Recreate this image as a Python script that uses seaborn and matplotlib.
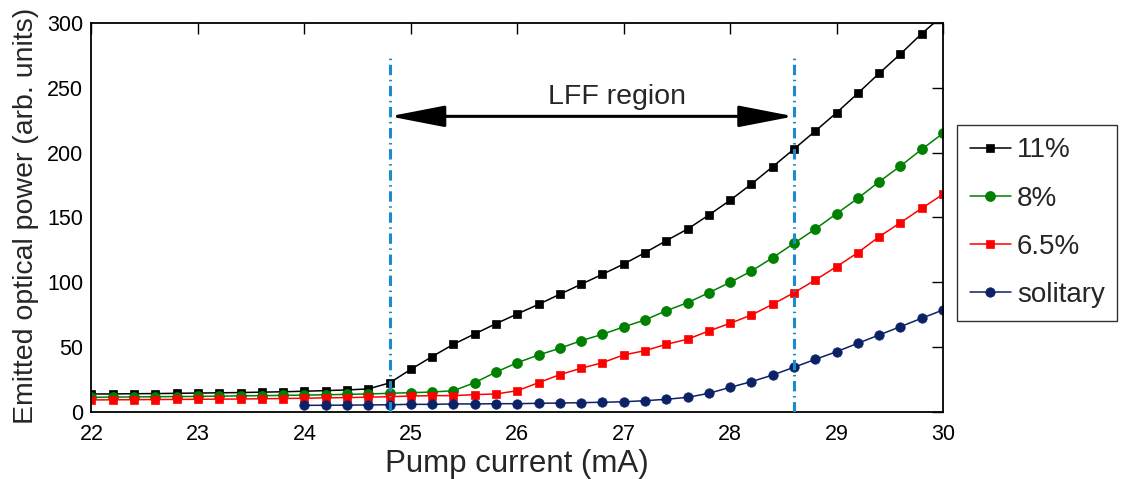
import numpy as np
import pandas as pd
import matplotlib
matplotlib.use("Agg")
import matplotlib.pyplot as plt
import seaborn as sns

# Pump current grid (mA)
current = [22.0, 22.2, 22.4, 22.6, 22.8, 23.0, 23.2, 23.4, 23.6, 23.8,
           24.0, 24.2, 24.4, 24.6, 24.8, 25.0, 25.2, 25.4, 25.6, 25.8,
           26.0, 26.2, 26.4, 26.6, 26.8, 27.0, 27.2, 27.4, 27.6, 27.8,
           28.0, 28.2, 28.4, 28.6, 28.8, 29.0, 29.2, 29.4, 29.6, 29.8, 30.0]

# Emitted optical power (arb. units) for each feedback strength
power_11 = [13.9, 13.9, 14.1, 14.2, 14.4, 14.6, 14.8, 15.0, 15.3, 15.6,
            16.0, 16.5, 17.0, 17.8, 22.4, 32.9, 42.7, 52.2, 60.2, 68.1,
            75.6, 83.0, 90.8, 98.5, 106.2, 114.1, 122.9, 132.1, 141.1, 151.9,
            163.3, 175.8, 189.2, 202.8, 216.7, 230.8, 245.8, 261.2, 276.1, 291.8, 306.0]

power_8 = [11.3, 11.5, 11.6, 11.8, 11.9, 12.0, 12.2, 12.4, 12.6, 12.8,
           13.0, 13.3, 13.6, 13.9, 14.4, 14.9, 15.4, 16.4, 22.6, 30.8,
           38.0, 44.0, 49.1, 55.0, 59.9, 65.6, 71.0, 78.1, 84.3, 92.0,
           100.0, 108.7, 119.0, 130.1, 141.1, 153.0, 164.8, 177.6, 189.7, 202.6, 214.9]

power_6_5 = [9.3, 9.4, 9.5, 9.6, 9.7, 9.8, 9.9, 10.0, 10.2, 10.4,
             10.6, 10.9, 11.1, 11.4, 11.8, 12.3, 12.6, 12.6, 13.4, 13.9,
             16.4, 22.6, 28.8, 33.7, 38.0, 44.0, 47.3, 52.2, 56.1, 62.5,
             68.4, 74.8, 83.1, 92.0, 101.8, 112.1, 122.9, 135.2, 146.0, 157.1, 167.9]

# Solitary laser, measured from 24 mA upward
current_solitary = current[10:]
power_solitary = [5.1, 5.2, 5.3, 5.4, 5.6, 5.9, 5.9, 6.2, 6.2, 6.4,
                  6.4, 6.7, 6.9, 7.2, 7.5, 7.9, 8.7, 9.8, 11.3, 14.4,
                  19.0, 23.4, 28.5, 34.5, 40.6, 46.5, 53.0, 59.4, 65.8, 72.3, 78.7]

series_labels = ["11%", "8%", "6.5%", "solitary"]
lff_bounds = [24.8, 28.6]
lff_top = 275
arrow_level = 228
x_ticks = [22, 23, 24, 25, 26, 27, 28, 29, 30]
y_ticks = [0, 50, 100, 150, 200, 250, 300]

sns.set_style("white")
plt.rcParams["font.family"] = ["Liberation Sans", "DejaVu Sans"]

fig = plt.figure(figsize=(11.24, 4.79), dpi=100)
ax = fig.add_axes([0.0814, 0.1399, 0.7576, 0.8121])

styles = [
    (current, power_11, "s", "#000000", 5.8),
    (current, power_8, "o", "#008000", 7.2),
    (current, power_6_5, "s", "#ff0000", 5.8),
    (current_solitary, power_solitary, "o", "#0b2266", 6.8),
]
for (xs, ys, mk, col, ms), lab in zip(styles, series_labels):
    df = pd.DataFrame({"current": xs, "power": ys})
    sns.lineplot(data=df, x="current", y="power", ax=ax, color=col,
                 marker=mk, markersize=ms, markeredgecolor=col,
                 markeredgewidth=0.5, linewidth=1.1, label=lab)

# LFF region boundaries
ax.vlines(lff_bounds, 0, lff_top, colors="#1a8bcc", linewidth=2.2,
          linestyles=[(0, (3.4, 1.5, 0.5, 1.5))], zorder=3)

ax.annotate("", xy=(lff_bounds[0], arrow_level), xytext=(lff_bounds[1], arrow_level),
            arrowprops=dict(arrowstyle="<|-|>,head_length=1.7,head_width=0.33",
                            mutation_scale=20, color="black", lw=2.2,
                            shrinkA=0, shrinkB=0))
ax.text(26.94, 243, "LFF region", ha="center", va="center", fontsize=20.5)

ax.set_xlim(22, 30)
ax.set_ylim(0, 300)
ax.set_xticks(x_ticks)
ax.set_yticks(y_ticks)
ax.tick_params(axis="both", which="both", direction="in", length=8, width=1,
               top=True, right=True, labelsize=15.5, colors="black")
ax.tick_params(axis="x", pad=9)
ax.tick_params(axis="y", pad=6)
for sp in ax.spines.values():
    sp.set_visible(True)
    sp.set_color("black")
    sp.set_linewidth(1.3)

ax.set_xlabel("Pump current (mA)", fontsize=22.5)
ax.set_ylabel("Emitted optical power (arb. units)", fontsize=20.5)
ax.xaxis.set_label_coords(0.5, -0.095)
ax.yaxis.set_label_coords(-0.062, 0.505)

leg = ax.legend(loc="upper left", bbox_to_anchor=(1.0164, 0.738), borderaxespad=0,
                fontsize=20, frameon=True, fancybox=False, handlelength=1.5,
                handletextpad=0.2, labelspacing=0.8, borderpad=0.45)
leg.get_frame().set_edgecolor("black")
leg.get_frame().set_linewidth(1.0)

fig.savefig("out.png", dpi=100)
